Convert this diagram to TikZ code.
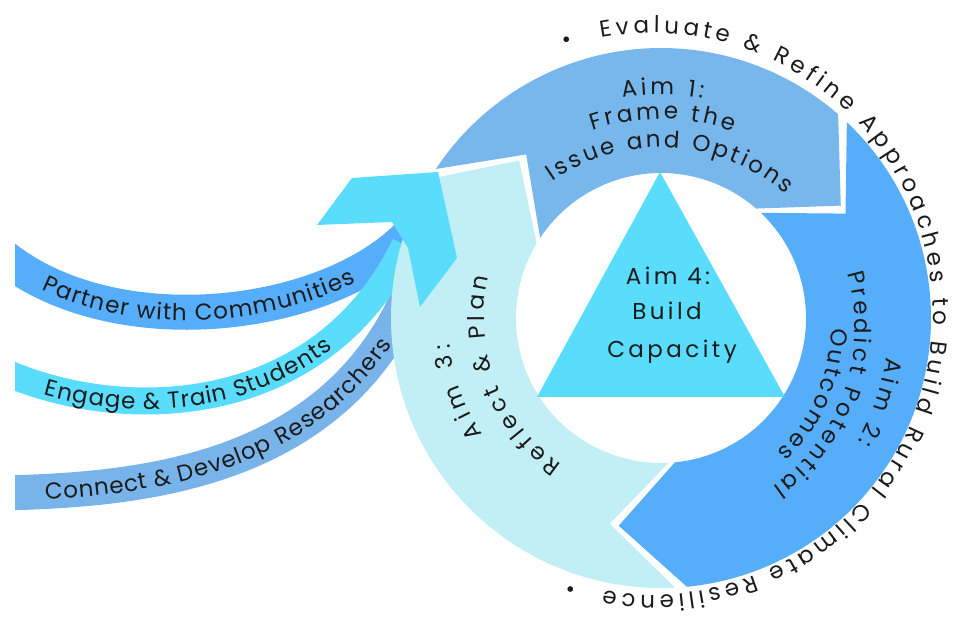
\documentclass[tikz,border=0pt]{standalone}
\usepackage{fontspec}
\setmainfont{Poppins}
\newfontfamily\spacedfont[LetterSpace=15]{Poppins}
\usetikzlibrary{decorations.text}
\definecolor{aimone}{HTML}{78B7EC}
\definecolor{aimtwo}{HTML}{56ADFA}
\definecolor{aimthree}{HTML}{C2EFF6}
\definecolor{cyanc}{HTML}{5ADDFC}
\definecolor{connectc}{HTML}{78B4EA}
\definecolor{inkc}{HTML}{1B1B1B}
\tikzset{
  arctext/.style={decorate, decoration={text along path, text color=inkc, text align={fit to path}, text={#1}}},
  ribbon/.style={line width=#1, line cap=butt},
}
\begin{document}
\fontsize{23}{28}\selectfont
\begin{tikzpicture}[x=1pt,y=1pt]
\useasboundingbox (0,0) rectangle (956,627);
% ribbons
\begin{scope}
\clip (15,0) rectangle (956,627);
\draw[ribbon=35pt, aimtwo] (0,373) .. controls (110,282) and (322,305) .. (408,391);
\draw[ribbon=35pt, connectc] (0,134) .. controls (150,137) and (360,157) .. (425,375);
\draw[ribbon=27pt, cyanc] (0,257) .. controls (120,202) and (320,207) .. (405,382);
\end{scope}
% ring
\begin{scope}[shift={(661,309)}]
\fill[aimone] (146.5:270pt) arc[start angle=146.5,end angle=49,radius=270pt] -- (32:212pt) -- (49:145pt) arc[start angle=49,end angle=146.5,radius=145pt] -- (129.5:212pt) -- cycle;
\fill[aimtwo] (46.5:270pt) arc[start angle=46.5,end angle=-84.5,radius=270pt] -- (-101.5:212pt) -- (-84.5:145pt) arc[start angle=-84.5,end angle=46.5,radius=145pt] -- (29.5:212pt) -- cycle;
\fill[aimthree] (-87:270pt) arc[start angle=-87,end angle=-211,radius=270pt] -- (-228:212pt) -- (-211:145pt) arc[start angle=-211,end angle=-87,radius=145pt] -- (-104:212pt) -- cycle;
\end{scope}
% big cyan head
\fill[cyanc] (317,402) -- (352,449) -- (438,455) -- (457,369) -- (420,320) -- (408,379) -- (392,405) -- cycle;
% triangle
\fill[cyanc] (660,455) -- (537,230) -- (785,230) -- cycle;
\node[anchor=base, inkc, font=\spacedfont] (t4a) at (668,342) {Aim 4:};
\node[anchor=base, inkc, font=\spacedfont] (t4b) at (667,307) {Build};
\node[anchor=base, inkc, font=\spacedfont] (t4c) at (672,269) {Capacity};
% ribbon texts
\path[decorate, decoration={text along path, text color=inkc, raise=-8pt, text align={fit to path, left indent=53pt, right indent=68pt}, text={Partner with Communities}}] (0,373) .. controls (110,282) and (322,305) .. (408,391);
\path[decorate, decoration={text along path, text color=inkc, raise=-8pt, text align={fit to path, left indent=49pt, right indent=125pt}, text={Engage {\&} Train Students}}] (0,257) .. controls (120,202) and (320,207) .. (405,382);
\path[decorate, decoration={text along path, text color=inkc, raise=-8pt, text align={fit to path, left indent=45pt, right indent=97pt}, text={Connect {\&} Develop Researchers}}] (0,134) .. controls (150,137) and (360,157) .. (425,375);
% Aim 1 texts
\begin{scope}[shift={(661,291)}]
\path[arctext={Aim 1:}] (99.2:241pt) arc[start angle=99.2,end angle=80,radius=241pt];
\path[arctext={Frame the}] (108.5:217pt) arc[start angle=108.5,end angle=70.5,radius=217pt];
\path[arctext={Issue and Options}] (125:188.5pt) arc[start angle=125,end angle=48.6,radius=188.5pt];
\end{scope}
% Aim 2 texts
\begin{scope}[shift={(661,299)}]
\path[arctext={Aim 2:}] (-7.4:227pt) arc[start angle=-7.4,end angle=-30,radius=227pt];
\path[arctext={Predict Potential}] (16.4:194pt) arc[start angle=16.4,end angle=-54.9,radius=194pt];
\path[arctext={Outcomes}] (0:170pt) arc[start angle=0,end angle=-47,radius=170pt];
\end{scope}
% Aim 3 texts
\begin{scope}[shift={(661,309)}]
\path[arctext={Aim 3:}] (213:213pt) arc[start angle=213,end angle=187,radius=213pt];
\path[arctext={Reflect {\&} Plan}] (236:177pt) arc[start angle=236,end angle=166.5,radius=177pt];
\end{scope}
% outer text
\begin{scope}[shift={(652,313)}]
\path[arctext={Evaluate {\&} Refine Approaches to Build Rural Climate Resilience}] (100.5:281pt) arc[start angle=100.5,end angle=-99.9,radius=281pt];
\node[inkc, rotate=17.2] (b1) at (107.2:285pt) {•};
\node[inkc, rotate=163.5] (b2) at (-106.5:285pt) {•};
\end{scope}
\end{tikzpicture}
\end{document}
